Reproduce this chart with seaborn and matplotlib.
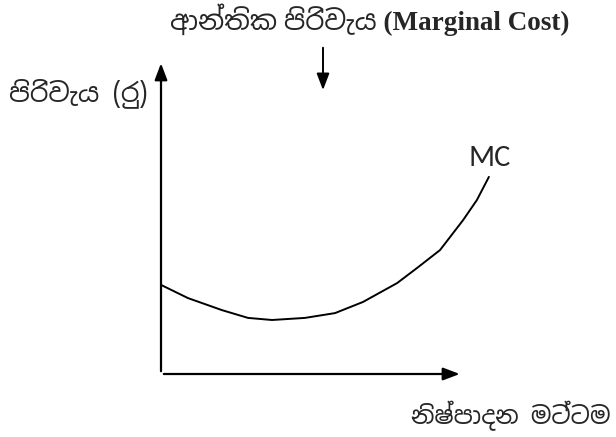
import matplotlib
matplotlib.use("Agg")
import matplotlib.pyplot as plt
import seaborn as sns
import pandas as pd

# output level (x) and marginal cost (y)
quantity = [0, 0.9, 2.03, 2.9, 3.7, 4.8, 5.8, 6.73, 7.87, 8.53, 9.3, 10.07, 10.53, 10.93]
mc_cost = [2.97, 2.53, 2.13, 1.87, 1.8, 1.87, 2.03, 2.4, 3.03, 3.53, 4.13, 5.13, 5.8, 6.57]

title_text = "ආන්තික පිරිවැය (Marginal Cost)"
y_label = "පිරිවැය (රු)"
x_label = "නිෂ්පාදන මට්ටම"
curve_label = "MC"

x_axis_end = 10.05
y_axis_end = 10.45

sns.set_style("white")
sinhala = ["Noto Sans Sinhala", "Noto Serif Sinhala", "DejaVu Sans"]

df = pd.DataFrame({"q": quantity, "mc": mc_cost})

fig = plt.figure(figsize=(6.16, 4.37), dpi=100)
ax = fig.add_axes([0, 0, 1, 1])

sns.lineplot(data=df, x="q", y="mc", ax=ax, color="black", linewidth=1.4, sort=False)

# axes drawn as arrows
head = "-|>,head_length=1.0,head_width=0.38"
ax.annotate("", xy=(x_axis_end, 0), xytext=(0, 0),
            arrowprops=dict(arrowstyle=head, color="black", lw=1.6))
ax.annotate("", xy=(0, y_axis_end), xytext=(0, 0),
            arrowprops=dict(arrowstyle=head, color="black", lw=1.6))
# arrow under the title
ax.annotate("", xy=(5.4, 9.37), xytext=(5.4, 10.97),
            arrowprops=dict(arrowstyle=head, color="black", lw=1.4))

ax.text(6.97, 11.8, title_text, ha="center", va="center", fontsize=19.5, fontweight="bold",
        family=["Liberation Serif", "Noto Sans Sinhala", "DejaVu Serif"])
ax.text(-0.45, 9.35, y_label, ha="right", va="center", fontsize=19, family=sinhala)
ax.text(11.67, -1.4, x_label, ha="center", va="center", fontsize=17.5, family=sinhala)
ax.text(10.97, 7.2, curve_label, ha="center", va="center", fontsize=22,
        family=["Carlito", "Open Sans", "DejaVu Sans"])

ax.set_xlim(-161 / 30, 455 / 30)
ax.set_ylim(-63 / 30, 374 / 30)
ax.set_xlabel("")
ax.set_ylabel("")
ax.axis("off")

fig.savefig("out.png", dpi=100)
